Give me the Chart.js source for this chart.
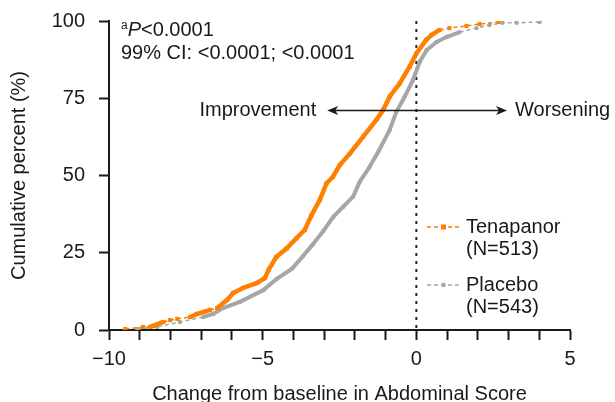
<!DOCTYPE html>
<html>
<head>
<meta charset="utf-8">
<script src="https://cdn.jsdelivr.net/npm/chart.js@4"></script>
<style>
  body { margin: 0; background: #fff; }
  #wrap { width: 615px; height: 402px; }
</style>
</head>
<body>
<div id="wrap"><canvas id="chart"></canvas></div>
<script>
// DATA
const tenaX = [-9.47, -8.89, -8.66, -8.23, -8.01, -7.78, -7.36, -7.13, -6.71, -6.48, -6.16, -5.96, -5.64, -5.19, -4.93, -4.80, -4.55, -4.22, -3.90, -3.63, -3.41, -3.14, -2.92, -2.71, -2.49, -2.17, -1.73, -1.30, -1.08, -0.87, -0.54, -0.22, 0.0, 0.32, 0.50, 0.76, 1.08, 1.63, 2.06, 2.67];
const tenaY = [0.3, 1.0, 1.0, 2.6, 3.2, 3.6, 4.2, 5.2, 6.5, 7.1, 9.7, 12.0, 13.6, 15.2, 16.8, 19.6, 23.7, 26.4, 29.7, 32.4, 37.2, 42.1, 47.5, 49.6, 53.4, 57.0, 62.6, 68.0, 71.2, 75.5, 79.8, 85.2, 89.5, 93.9, 95.5, 97.1, 97.7, 98.4, 99.0, 99.7];
const placeboX = [-9.08, -8.43, -7.69, -6.94, -6.61, -6.29, -5.74, -4.98, -4.55, -4.05, -3.68, -3.36, -3.03, -2.71, -2.38, -2.06, -1.84, -1.52, -1.22, -0.87, -0.65, -0.38, -0.11, 0.11, 0.34, 0.66, 0.98, 1.41, 1.96, 2.38, 2.80, 3.26, 4.01];
const placeboY = [0.3, 1.0, 2.6, 4.2, 5.2, 7.1, 9.1, 12.9, 16.5, 19.8, 24.0, 27.8, 32.0, 36.5, 39.9, 43.1, 48.0, 52.8, 58.0, 64.7, 70.6, 75.5, 80.9, 86.8, 90.6, 93.2, 94.8, 96.4, 97.7, 98.7, 99.4, 99.4, 99.7];

const seriesNames = ["Tenapanor", "Placebo"];
const seriesN = [513, 543];
const seriesColors = ["#ff7f00", "#a6a6a6"];
const seriesMarkers = ["rect", "circle"];

const xLabelTicks = [-10, -5, 0, 5];
const yTickStep = 25;

const pText = "P<0.0001";
const ciText = "99% CI: <0.0001; <0.0001";
const leftNote = "Improvement";
const rightNote = "Worsening";
// arrow span and height in data units
const arrowFrom = -2.9;
const arrowTo = 2.95;
const arrowLevel = 71;

const FONT = "'Liberation Sans', Arial, sans-serif";
const INK = "#1a1a1a";

function toPoints(xs, ys) {
  return xs.map((x, i) => ({ x: x, y: ys[i] }));
}

// flat stretches of the curves show separate markers joined by a dashed line
function isSparse(ctx) {
  const dx = Math.abs(ctx.p1.x - ctx.p0.x);
  const dy = Math.abs(ctx.p1.y - ctx.p0.y);
  return dx > 0 && dy / dx < 0.3;
}

function makeSet(i, xs, ys, width) {
  return {
    label: seriesNames[i],
    data: toPoints(xs, ys),
    borderColor: seriesColors[i],
    backgroundColor: seriesColors[i],
    borderWidth: width,
    borderJoinStyle: "round",
    pointStyle: seriesMarkers[i],
    pointRadius: seriesMarkers[i] === "rect" ? 2.9 : 2.2,
    pointBorderWidth: 0,
    pointHoverRadius: 0,
    tension: 0,
    segment: {
      borderDash: ctx => isSparse(ctx) ? [4, 3] : undefined,
      borderWidth: ctx => isSparse(ctx) ? 1.5 : undefined
    }
  };
}

// zero line, notes, arrow and legend
const extras = {
  id: "extras",
  beforeDatasetsDraw(chart) {
    const { ctx, chartArea, scales } = chart;
    const x0 = scales.x.getPixelForValue(0);
    ctx.save();
    ctx.strokeStyle = "#222";
    ctx.lineWidth = 2;
    ctx.setLineDash([3, 5]);
    ctx.beginPath();
    ctx.moveTo(x0, chartArea.top);
    ctx.lineTo(x0, chartArea.bottom);
    ctx.stroke();
    ctx.restore();
  },
  afterDatasetsDraw(chart) {
    const { ctx, chartArea, scales } = chart;
    ctx.save();
    ctx.fillStyle = INK;
    ctx.textBaseline = "middle";

    // stats
    let tx = chartArea.left + 12;
    ctx.font = "12px " + FONT;
    ctx.textAlign = "left";
    ctx.fillText("a", tx, chartArea.top + 5);
    tx += ctx.measureText("a").width;
    ctx.font = "italic 20px " + FONT;
    ctx.fillText(pText[0], tx, chartArea.top + 9);
    tx += ctx.measureText(pText[0]).width;
    ctx.font = "20px " + FONT;
    ctx.fillText(pText.slice(1), tx, chartArea.top + 9);
    ctx.fillText(ciText, chartArea.left + 12, chartArea.top + 32);

    // arrow
    const ay = scales.y.getPixelForValue(arrowLevel);
    const ax1 = scales.x.getPixelForValue(arrowFrom);
    const ax2 = scales.x.getPixelForValue(arrowTo);
    ctx.strokeStyle = INK;
    ctx.lineWidth = 1.5;
    ctx.beginPath();
    ctx.moveTo(ax1 + 4, ay);
    ctx.lineTo(ax2 - 4, ay);
    ctx.stroke();
    ctx.beginPath();
    ctx.moveTo(ax1, ay);
    ctx.lineTo(ax1 + 11, ay - 4.5);
    ctx.lineTo(ax1 + 8, ay);
    ctx.lineTo(ax1 + 11, ay + 4.5);
    ctx.closePath();
    ctx.moveTo(ax2, ay);
    ctx.lineTo(ax2 - 11, ay - 4.5);
    ctx.lineTo(ax2 - 8, ay);
    ctx.lineTo(ax2 - 11, ay + 4.5);
    ctx.closePath();
    ctx.fill();
    ctx.textAlign = "right";
    ctx.fillText(leftNote, ax1 - 11, ay);
    ctx.textAlign = "left";
    ctx.fillText(rightNote, ax2 + 8, ay);

    // legend
    const lx1 = chartArea.right - 143;
    const lx2 = chartArea.right - 110;
    const rows = [chartArea.top + 206, chartArea.top + 264];
    chart.data.datasets.forEach((ds, i) => {
      const y = rows[i];
      ctx.strokeStyle = ds.borderColor;
      ctx.lineWidth = 1.5;
      ctx.setLineDash([4, 3]);
      ctx.beginPath();
      ctx.moveTo(lx1, y);
      ctx.lineTo(lx2, y);
      ctx.stroke();
      ctx.setLineDash([]);
      ctx.fillStyle = ds.backgroundColor;
      const mx = (lx1 + lx2) / 2;
      if (ds.pointStyle === "rect") {
        ctx.fillRect(mx - 2.5, y - 2.5, 5, 5);
      } else {
        ctx.beginPath();
        ctx.arc(mx, y, 2.3, 0, Math.PI * 2);
        ctx.fill();
      }
      ctx.fillStyle = INK;
      ctx.textAlign = "left";
      ctx.fillText(ds.label, lx2 + 6, y);
      ctx.fillText("(N=" + seriesN[i] + ")", lx2 + 6, y + 22);
    });
    ctx.restore();
  }
};

Chart.defaults.font.family = FONT;
Chart.defaults.font.size = 20;
Chart.defaults.color = INK;

new Chart(document.getElementById("chart"), {
  type: "line",
  data: {
    datasets: [
      makeSet(0, tenaX, tenaY, 4.5),
      makeSet(1, placeboX, placeboY, 4)
    ]
  },
  options: {
    responsive: true,
    maintainAspectRatio: false,
    animation: false,
    layout: { padding: { left: 0, top: 21, right: 45, bottom: 0 } },
    plugins: { legend: { display: false }, tooltip: { enabled: false } },
    scales: {
      x: {
        type: "linear",
        min: -10,
        max: 5,
        afterFit(scale) {
          scale.height = 72;
          scale.paddingLeft = 0;
          scale.paddingRight = 0;
        },
        ticks: {
          stepSize: 1,
          autoSkip: false,
          maxRotation: 0,
          padding: 7,
          callback: v => xLabelTicks.includes(v) ? String(v).replace("-", "\u2212") : ""
        },
        grid: { drawOnChartArea: false, drawTicks: true, tickLength: 10, tickColor: INK, tickWidth: 2 },
        border: { display: true, color: INK, width: 2 },
        title: { display: true, text: "Change from baseline in Abdominal Score", padding: { top: 0, bottom: -4 } }
      },
      y: {
        min: 0,
        max: 100,
        afterFit(scale) {
          scale.width = 109;
          scale.paddingTop = 0;
          scale.paddingBottom = 0;
        },
        ticks: { stepSize: yTickStep, padding: 14 },
        grid: { drawOnChartArea: false, drawTicks: true, tickLength: 10, tickColor: INK, tickWidth: 2 },
        border: { display: true, color: INK, width: 2 },
        title: { display: true, text: "Cumulative percent (%)", padding: { top: 7, bottom: 0 } }
      }
    }
  },
  plugins: [extras]
});
</script>
</body>
</html>
